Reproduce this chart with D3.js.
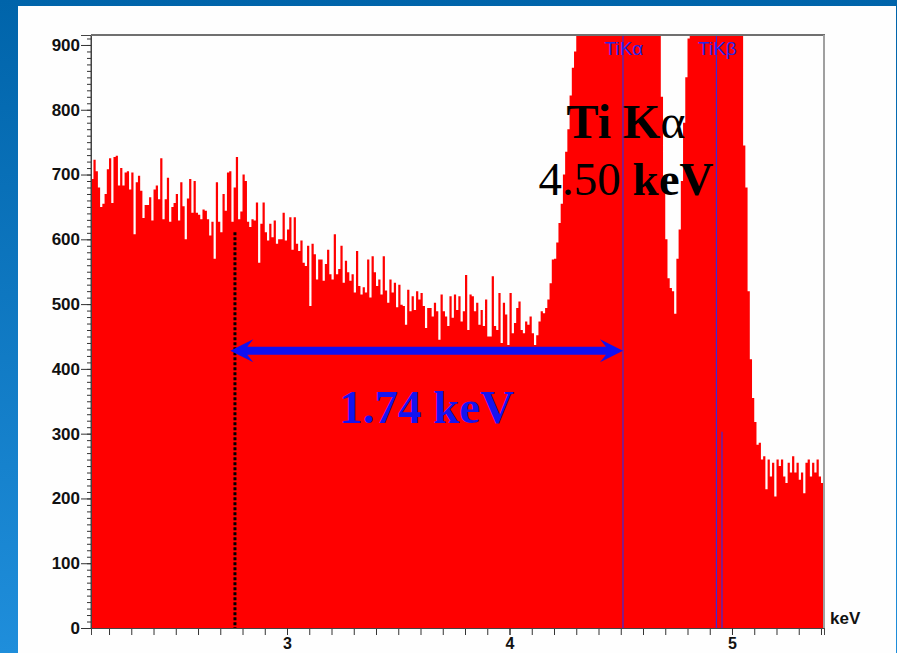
<!DOCTYPE html>
<html>
<head>
<meta charset="utf-8">
<script src="https://cdn.jsdelivr.net/npm/d3@7"></script>
<style>
  html, body { margin: 0; padding: 0; }
  body { width: 897px; height: 653px; overflow: hidden; }
  #chart { width: 897px; height: 653px; }
  .narrow { font-family: "Liberation Sans Narrow", "Arial Narrow", "Liberation Sans", Arial, sans-serif; }
</style>
</head>
<body>
<div id="chart"></div>
<script>
// spectrum channels, 10 eV wide, starting at 2.12 keV
const binStart = 2.12;
const binWidth = 0.01;
const counts = [
  // 2.12 - 2.81
  693, 723, 705, 680, 650, 655, 670, 708, 725, 656, 727, 729, 683, 710, 683, 703, 705, 677, 703, 608,
  688, 698, 675, 633, 653, 653, 665, 629, 677, 683, 662, 725, 631, 662, 695, 627, 650, 656, 670, 629,
  688, 651, 600, 663, 693, 641, 690, 641, 638, 631, 646, 644, 631, 606, 627, 570, 688, 627, 611, 670,
  644, 703, 705, 627, 680, 727, 631, 643, 700, 690,
  // 2.82 - 3.49
  627, 619, 631, 629, 657, 564, 624, 657, 611, 598, 624, 603, 629, 593, 600, 600, 641, 598, 615, 634,
  584, 634, 593, 582, 598, 564, 559, 590, 497, 593, 577, 538, 569, 569, 536, 562, 584, 546, 538, 608,
  546, 554, 590, 533, 567, 549, 536, 546, 518, 582, 528, 515, 526, 518, 569, 510, 574, 549, 528, 538,
  515, 574, 521, 502, 538, 518, 533, 495,
  // 3.50 - 4.19
  530, 499, 497, 468, 522, 489, 512, 491, 520, 507, 517, 497, 463, 494, 494, 481, 502, 489, 445, 515,
  489, 481, 466, 512, 479, 515, 491, 512, 473, 489, 545, 460, 515, 512, 489, 502, 468, 491, 466, 507,
  450, 450, 543, 466, 460, 517, 440, 502, 484, 437, 517, 455, 471, 494, 504, 460, 455, 473, 468, 481,
  455, 437, 452, 473, 489, 486, 494, 507, 532, 569,
  // 4.20 - 4.30 rising edge of Ti Ka
  570, 595, 625, 655, 700, 735, 770, 822, 865, 890, 914,
  // 4.31 - 4.67 Ti Ka (off scale)
  940, 960, 990, 1030, 1090, 1170, 1280, 1420, 1600, 1820, 2080, 2370, 2680, 2990, 3280, 3540, 3750,
  3900, 3990, 4030, 4040, 4000, 3880, 3690, 3430, 3120, 2780, 2420, 2070, 1750, 1470, 1240, 1090,
  1010, 960, 935, 920,
  // 4.68 - 4.80 valley
  820, 680, 600, 540, 525, 520, 485, 570, 615, 690, 780, 850, 910,
  // 4.81 - 5.04 Ti Kb (off scale)
  930, 960, 1000, 1050, 1110, 1170, 1230, 1280, 1320, 1350, 1370, 1380, 1375, 1360, 1330, 1290,
  1240, 1180, 1120, 1060, 1010, 970, 940, 925,
  // 5.05 - 5.11 falling edge
  745, 680, 520, 415, 355, 318, 283,
  // 5.12 - 5.41 tail
  286, 260, 265, 214, 260, 234, 255, 203, 260, 250, 260, 234, 224, 255, 240, 265, 240, 255, 229, 240,
  208, 255, 260, 234, 255, 240, 260, 234, 224, 229
];

const yTickValues = [0, 100, 200, 300, 400, 500, 600, 700, 800, 900];
const xTickValues = [3, 4, 5];
const peakLines = [
  { label: "TiKα", keV: 4.51 },
  { label: "TiKβ", keV: 4.93 }
];
const extraLine = { keV: 4.955, top: 303 };
const cursor = { keV: 2.766, top: 611 };
const span = { from: 2.745, to: 4.51, level: 428, label: "1.74 keV" };

class SpectrumChart {
  constructor(id, data) {
    this.data = data;
    this.div = id;
  }

  add_svg() {
    const div = d3.select(`#${this.div}`);
    div.selectAll("*").remove();
    this.width = 897;
    this.height = 653;
    this.margin = { left: 91, right: 73, top: 35, bottom: 25 };
    this.innerW = this.width - this.margin.left - this.margin.right;
    this.innerH = this.height - this.margin.top - this.margin.bottom;
    this.svg = div
      .append("svg")
      .attr("width", this.width)
      .attr("height", this.height);

    const defs = this.svg.append("defs");
    const grad = defs
      .append("linearGradient")
      .attr("id", "bg")
      .attr("x1", 0).attr("y1", 0)
      .attr("x2", 0).attr("y2", 1);
    grad.append("stop").attr("offset", "0%").attr("stop-color", "#0064aa");
    grad.append("stop").attr("offset", "100%").attr("stop-color", "#1f8edb");
    defs
      .append("clipPath")
      .attr("id", "clipper")
      .append("rect")
      .attr("x", 0)
      .attr("y", 0)
      .attr("width", this.innerW)
      .attr("height", this.innerH);

    this.svg.append("rect")
      .attr("width", this.width).attr("height", this.height)
      .attr("fill", "url(#bg)");
    // slide panel
    this.svg.append("rect")
      .attr("x", 18).attr("y", 6)
      .attr("width", 878).attr("height", this.height - 6)
      .attr("fill", "#fefefe");

    this.ChartArea = this.svg
      .append("g")
      .attr("transform", `translate(${this.margin.left},${this.margin.top})`);
    this.draw_area = this.ChartArea.append("g").attr("clip-path", "url(#clipper)");
    this.AxisYLeft = this.ChartArea.append("g");
    this.AxisX = this.ChartArea.append("g").attr(
      "transform",
      `translate(0,${this.innerH})`
    );
  }

  add_scale() {
    this.x = d3.scaleLinear().domain([2.119, 5.4135]).range([0, this.innerW]);
    this.y = d3.scaleLinear().domain([0, 915.4]).range([this.innerH, 0]);
  }

  draw_chart() {
    const pts = this.data.map((d, i) => [binStart + i * binWidth, d]);
    pts.push([binStart + this.data.length * binWidth, this.data[this.data.length - 1]]);
    const area = d3
      .area()
      .curve(d3.curveStepAfter)
      .x((d) => this.x(d[0]))
      .y0(this.innerH)
      .y1((d) => this.y(d[1]));
    this.draw_area.append("path").datum(pts).attr("d", area).attr("fill", "#ff0000");

    // element marker lines
    this.draw_area.selectAll(".peak")
      .data(peakLines)
      .join("line")
      .attr("class", "peak")
      .attr("x1", (d) => this.x(d.keV)).attr("x2", (d) => this.x(d.keV))
      .attr("y1", 0).attr("y2", this.innerH)
      .attr("stroke", "#3a2ad8").attr("stroke-width", 1.2);
    this.draw_area.append("line")
      .attr("x1", this.x(extraLine.keV)).attr("x2", this.x(extraLine.keV))
      .attr("y1", this.y(extraLine.top)).attr("y2", this.innerH)
      .attr("stroke", "#3a2ad8").attr("stroke-width", 1.2);
    this.draw_area.selectAll(".peak_label")
      .data(peakLines)
      .join("text")
      .attr("class", "peak_label narrow")
      .attr("x", (d) => this.x(d.keV) + 1)
      .attr("y", 20)
      .attr("text-anchor", "middle")
      .attr("font-size", 19)
      .attr("fill", "#2626e6")
      .text((d) => d.label);

    // cursor
    this.draw_area.append("line")
      .attr("x1", this.x(cursor.keV)).attr("x2", this.x(cursor.keV))
      .attr("y1", this.y(cursor.top)).attr("y2", this.innerH)
      .attr("stroke", "#000").attr("stroke-width", 3)
      .attr("stroke-dasharray", "3,2");
  }

  add_axis() {
    const yMinor = d3.range(0, 916, 10);
    const xMinor = d3.range(2.2, 5.45, 0.1);
    this.AxisYLeft.call(
      d3.axisLeft(this.y).tickValues(yMinor).tickSize(4).tickFormat("")
    );
    this.AxisYLeft.append("g").call(
      d3.axisLeft(this.y).tickValues(yTickValues).tickSize(10).tickPadding(1)
    );
    this.AxisX.call(
      d3.axisBottom(this.x).tickValues(xMinor).tickSize(7).tickFormat("")
    );
    this.AxisX.append("g").call(
      d3.axisBottom(this.x).tickValues(xTickValues).tickSize(7).tickPadding(3)
        .tickFormat(d3.format("d"))
    );
    this.ChartArea.selectAll(".domain").attr("stroke", "#444");
    this.ChartArea.selectAll(".tick line").attr("stroke", "#333");
    this.ChartArea.selectAll(".tick text")
      .attr("class", "narrow")
      .attr("font-size", 17)
      .attr("font-weight", "bold")
      .attr("fill", "#111");
    this.AxisX.selectAll(".tick text").attr("font-size", 16);
    this.AxisYLeft.select(".domain").attr("d", `M0,0V${this.innerH}`);

    // frame
    this.ChartArea.append("line")
      .attr("x1", 0).attr("x2", this.innerW + 1)
      .attr("y1", 0).attr("y2", 0)
      .attr("stroke", "#707070").attr("stroke-width", 2);
    this.ChartArea.append("line")
      .attr("x1", this.innerW).attr("x2", this.innerW)
      .attr("y1", 0).attr("y2", this.innerH)
      .attr("stroke", "#a0a0a0").attr("stroke-width", 2);
  }

  add_label() {
    this.ChartArea.append("text")
      .attr("class", "narrow")
      .attr("x", this.innerW + 6)
      .attr("y", this.innerH - 4)
      .attr("font-size", 17)
      .attr("font-weight", "bold")
      .attr("fill", "#111")
      .text("keV");

    // span arrow
    const x1 = this.x(span.from), x2 = this.x(span.to), cy = this.y(span.level);
    const pts = [
      [x1, cy], [x1 + 23, cy - 11.5], [x1 + 17, cy - 4], [x2 - 17, cy - 4], [x2 - 23, cy - 11.5],
      [x2, cy], [x2 - 23, cy + 11.5], [x2 - 17, cy + 4], [x1 + 17, cy + 4], [x1 + 23, cy + 11.5]
    ];
    this.ChartArea.append("path")
      .attr("d", "M" + pts.join("L") + "Z")
      .attr("fill", "#1010f2");
    this.ChartArea.append("text")
      .attr("x", (x1 + x2) / 2)
      .attr("y", cy + 72)
      .attr("text-anchor", "middle")
      .attr("font-family", "'Liberation Serif', 'Times New Roman', serif")
      .attr("font-weight", "bold")
      .attr("font-size", 47)
      .attr("fill", "#1414f0")
      .text(span.label);

    const cx = this.x(peakLines[0].keV) + 3;
    const t1 = this.ChartArea.append("text")
      .attr("x", cx).attr("y", 103)
      .attr("text-anchor", "middle")
      .attr("font-family", "'Liberation Serif', 'Times New Roman', serif")
      .attr("font-size", 48)
      .attr("fill", "#000");
    t1.append("tspan").attr("font-weight", "bold").text("Ti K");
    t1.append("tspan").text("α");
    const t2 = this.ChartArea.append("text")
      .attr("x", cx).attr("y", 160)
      .attr("text-anchor", "middle")
      .attr("font-family", "'Liberation Serif', 'Times New Roman', serif")
      .attr("font-size", 47)
      .attr("fill", "#000");
    t2.append("tspan").text("4.50 ");
    t2.append("tspan").attr("font-weight", "bold").text("keV");
  }

  update_chart() {
    this.add_svg();
    this.add_scale();
    this.draw_chart();
    this.add_axis();
    this.add_label();
  }
}

const chart = new SpectrumChart("chart", counts);
chart.update_chart();
</script>
</body>
</html>
